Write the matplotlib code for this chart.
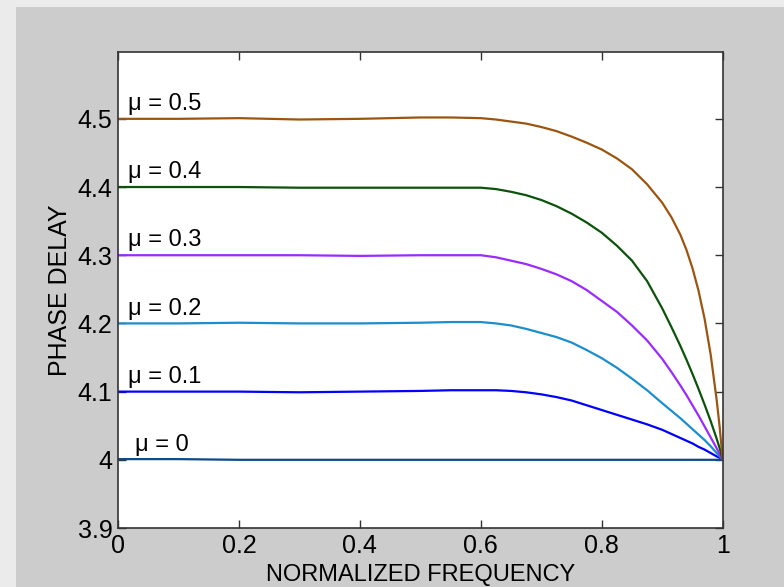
import matplotlib.pyplot as plt
from matplotlib.patches import Rectangle

plt.rcParams['font.family'] = ['Liberation Sans', 'DejaVu Sans']

# frequencia normalizada (comum a todas as curvas)
freq = [0, 0.1, 0.2, 0.3, 0.4, 0.5, 0.55, 0.6, 0.625, 0.65, 0.675, 0.7, 0.725, 0.75,
        0.775, 0.8, 0.825, 0.85, 0.875, 0.9, 0.915, 0.93, 0.94, 0.95, 0.96, 0.97,
        0.98, 0.99, 0.995, 1.0]

# atraso de fase, um por valor de mu
mu_vals = [0, 0.1, 0.2, 0.3, 0.4, 0.5]
atraso_00 = [4.001, 4.001, 4.0, 4.0, 4.0, 4.0, 4.0, 4.0, 4.0, 4.0, 4.0, 4.0, 4.0, 4.0,
             4.0, 4.0, 4.0, 4.0, 4.0, 4.0, 4.0, 4.0, 4.0, 4.0, 4.0, 4.0,
             4.0, 4.0, 4.0, 4.0]
atraso_01 = [4.1, 4.1, 4.1, 4.099, 4.1, 4.101, 4.102, 4.102, 4.102, 4.101, 4.099, 4.096, 4.092, 4.087,
             4.08, 4.073, 4.066, 4.059, 4.052, 4.044, 4.038, 4.032, 4.028, 4.024, 4.019, 4.015,
             4.01, 4.005, 4.003, 4.0]
atraso_02 = [4.2, 4.2, 4.201, 4.2, 4.2, 4.201, 4.202, 4.202, 4.2, 4.197, 4.192, 4.186, 4.18, 4.172,
             4.161, 4.149, 4.135, 4.119, 4.102, 4.083, 4.072, 4.061, 4.053, 4.045, 4.037, 4.029,
             4.02, 4.01, 4.005, 4.0]
atraso_03 = [4.3, 4.3, 4.3, 4.3, 4.299, 4.3, 4.3, 4.3, 4.297, 4.292, 4.287, 4.28, 4.272, 4.262,
             4.249, 4.233, 4.217, 4.197, 4.175, 4.148, 4.129, 4.109, 4.095, 4.08, 4.065, 4.049,
             4.033, 4.017, 4.008, 4.0]
atraso_04 = [4.4, 4.4, 4.4, 4.399, 4.399, 4.399, 4.399, 4.399, 4.397, 4.393, 4.388, 4.381, 4.372, 4.361,
             4.348, 4.333, 4.314, 4.292, 4.262, 4.222, 4.195, 4.167, 4.147, 4.126, 4.104, 4.081,
             4.057, 4.031, 4.017, 4.0]
atraso_05 = [4.5, 4.5, 4.501, 4.499, 4.5, 4.502, 4.502, 4.501, 4.499, 4.496, 4.493, 4.488, 4.482, 4.474,
             4.465, 4.455, 4.442, 4.426, 4.404, 4.377, 4.356, 4.33, 4.308, 4.281, 4.248, 4.207,
             4.155, 4.088, 4.048, 4.0]
atrasos = [atraso_00, atraso_01, atraso_02, atraso_03, atraso_04, atraso_05]
rotulos = ['\u03bc = 0', '\u03bc = 0.1', '\u03bc = 0.2', '\u03bc = 0.3', '\u03bc = 0.4', '\u03bc = 0.5']

cores = ['#0b4a8c', '#0000ff', '#1a8fcc', '#9a2bff', '#0b530b', '#9c5510']

fig = plt.figure(figsize=(7.84, 5.87), dpi=100, facecolor='#ebebeb')
# fundo cinza da janela
fig.patches.append(Rectangle((16 / 784, 0), 1, 1 - 7 / 587, transform=fig.transFigure,
                             facecolor='#cccccc', edgecolor='none', zorder=-1))

ax = fig.add_axes([118 / 784, 59 / 587, 604.7 / 784, 476 / 587])
for mu, atraso, cor, rot in zip(mu_vals, atrasos, cores, rotulos):
    ax.plot(freq, atraso, color=cor, linewidth=1.6)
    x_txt = 0.028 if mu == 0 else 0.017
    ax.text(x_txt, mu + 4 + 0.013, rot, fontsize=17, color='black', va='baseline', ha='left')

ax.set_xlim(0, 1)
ax.set_ylim(3.9, 4.598)
ax.set_xticks([0, 0.2, 0.4, 0.6, 0.8, 1])
ax.set_xticklabels(['0', '0.2', '0.4', '0.6', '0.8', '1'])
ax.set_yticks([3.9, 4.0, 4.1, 4.2, 4.3, 4.4, 4.5])
ax.set_yticklabels(['3.9', '4', '4.1', '4.2', '4.3', '4.4', '4.5'])
ax.tick_params(direction='in', length=6, width=1, top=True, right=True,
               labelsize=18, pad=4, colors='#333333', labelcolor='black')
for s in ax.spines.values():
    s.set_color('#333333')
    s.set_linewidth(1.2)

ax.set_xlabel('NORMALIZED FREQUENCY', fontsize=17, labelpad=5)
ax.set_ylabel('PHASE DELAY', fontsize=18, labelpad=4)

plt.savefig('out.png', dpi=100, facecolor=fig.get_facecolor())
